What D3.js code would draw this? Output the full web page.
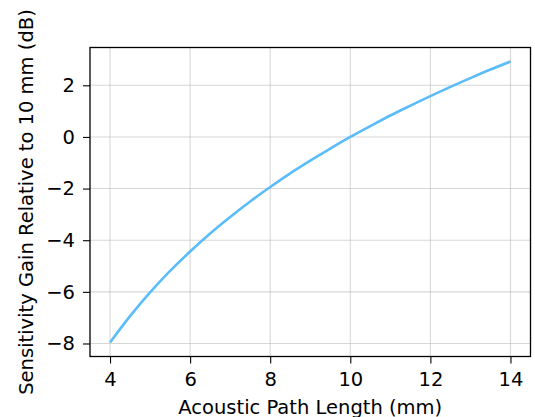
<!DOCTYPE html>
<html>
<head>
<meta charset="utf-8">
<script src="https://cdn.jsdelivr.net/npm/d3@7"></script>
<style>
  body { margin: 0; background: #fff; }
  svg text { font-family: "DejaVu Sans", sans-serif; }
</style>
</head>
<body>
<svg id="chart" width="535" height="417"></svg>
<script>
// path length (mm) and gain relative to 10 mm (dB)
const pathLength = [4, 4.5, 5, 5.5, 6, 6.5, 7, 7.5, 8, 8.5, 9, 9.5, 10, 10.5, 11, 11.5, 12, 12.5, 13, 13.5, 14];
const gainDb = [-7.96, -6.94, -6.02, -5.19, -4.44, -3.74, -3.10, -2.50, -1.94, -1.41, -0.92, -0.45, 0,
                0.42, 0.83, 1.21, 1.58, 1.94, 2.28, 2.61, 2.92];
const xTicks = [4, 6, 8, 10, 12, 14];
const yTicks = [-8, -6, -4, -2, 0, 2];

const svg = d3.select("#chart");
const margin = { top: 47.5, right: 4.5, bottom: 60.5, left: 90 },
    width = 535 - margin.left - margin.right,
    height = 417 - margin.top - margin.bottom;

const g = svg.append("g").attr("transform", `translate(${margin.left},${margin.top})`);

const x = d3.scaleLinear().domain([3.5, 14.5]).range([0, width]);
const y = d3.scaleLinear().domain([-8.504, 3.464]).range([height, 0]);

// grid
g.selectAll(".vgrid").data(xTicks).enter().append("line")
    .attr("x1", d => x(d)).attr("x2", d => x(d))
    .attr("y1", 0).attr("y2", height)
    .attr("stroke", "#b0b0b0").attr("stroke-opacity", 0.5).attr("stroke-width", 1.1);
g.selectAll(".hgrid").data(yTicks).enter().append("line")
    .attr("y1", d => y(d)).attr("y2", d => y(d))
    .attr("x1", 0).attr("x2", width)
    .attr("stroke", "#b0b0b0").attr("stroke-opacity", 0.5).attr("stroke-width", 1.1);

// curve
const line = d3.line()
    .x((d, i) => x(pathLength[i]))
    .y(d => y(d))
    .curve(d3.curveMonotoneX);
g.append("path")
    .datum(gainDb)
    .attr("fill", "none")
    .attr("stroke", "#5bbcfa")
    .attr("stroke-width", 2.6)
    .attr("d", line);

// axes
const fmt = d => d < 0 ? "\u2212" + Math.abs(d) : String(d);
const xAxis = g.append("g").attr("transform", `translate(0,${height})`)
    .call(d3.axisBottom(x).tickValues(xTicks).tickFormat(fmt).tickSizeOuter(0).tickSize(7).tickPadding(8.5));
const yAxis = g.append("g")
    .call(d3.axisLeft(y).tickValues(yTicks).tickFormat(fmt).tickSizeOuter(0).tickSize(7).tickPadding(8));
[xAxis, yAxis].forEach(a => {
    a.attr("font-size", null).attr("font-family", null);
    a.select(".domain").remove();
    a.selectAll("line").attr("stroke", "#000").attr("stroke-width", 1.1);
    a.selectAll("text").attr("fill", "#000")
        .style("font-size", "19.5px")
        .style("font-family", "'DejaVu Sans', sans-serif");
});

// frame
g.append("rect").attr("width", width).attr("height", height)
    .attr("fill", "none").attr("stroke", "#000").attr("stroke-width", 1.3);

// labels
svg.append("text")
    .attr("x", margin.left + width / 2).attr("y", 413.5)
    .attr("text-anchor", "middle").style("font-size", "19.5px")
    .text("Acoustic Path Length (mm)");
svg.append("text")
    .attr("transform", `translate(32.5,${margin.top + height / 2}) rotate(-90)`)
    .attr("text-anchor", "middle").style("font-size", "19.5px")
    .text("Sensitivity Gain Relative to 10 mm (dB)");
</script>
</body>
</html>
